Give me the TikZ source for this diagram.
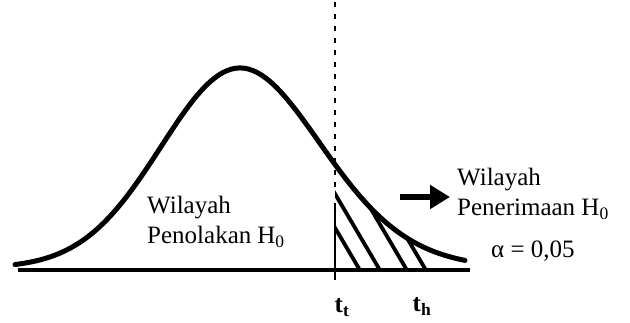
\documentclass[tikz,border=0pt]{standalone}
\usepackage{fontspec}
\setmainfont{Liberation Serif}
\usetikzlibrary{arrows.meta}
\tikzset{
  teks/.style={font=\fontsize{25}{30}\selectfont, inner sep=0pt, align=left},
  arsir/.style={line width=3.8pt},
}
\begin{document}
\begin{tikzpicture}[x=1pt,y=-1pt]
    \useasboundingbox (0,0) rectangle (630,323);

    % Kurva normal
    \draw[line width=5pt, line cap=round, domain=15:465, samples=150, smooth]
        plot (\x,{268-200*exp(-0.5*((\x-240)/(79+0.04*max(\x-240,0)))^2)});
    \draw[line width=4pt] (18,270) -- (470,270);

    % Daerah arsiran
    \begin{scope}
        \clip[domain=335:470, samples=60, smooth]
            plot (\x,{268-200*exp(-0.5*((\x-240)/(79+0.04*max(\x-240,0)))^2)}) -- (470,272) -- (335,272) -- cycle;
        \foreach \b in {361,381,408,427}
            \draw[arsir] (\b,272) -- ++(-80,-136);
    \end{scope}

    % Garis batas t
    \draw[line width=1.4pt, dash pattern=on 5pt off 7pt] (335,2) -- (335,190);
    \draw[line width=2.5pt] (335,203) -- (335,280);

    % Teks
    \node[teks, anchor=north west] (tolak) at (147,196) {Wilayah\\Penolakan\hspace{6pt}H\textsubscript{0}};
    \node[teks, anchor=north west] (terima) at (457,168) {Wilayah\\Penerimaan H\textsubscript{0}};
    \node[teks, anchor=base west] (alfa) at (491,258) {α = 0,05};
    \node[teks, anchor=base] (tt) at (342,313) {\textbf{t}\textsubscript{\textbf{t}}};
    \node[teks, anchor=base] (th) at (422,312) {\textbf{t}\textsubscript{\textbf{h}}};

    % Panah
    \coordinate (pangkal) at (400,197);
    \draw[line width=6.5pt, -{Triangle[length=20pt, width=23pt]}, shorten >=7pt]
        (pangkal) -- (pangkal -| terima.west);
\end{tikzpicture}
\end{document}
